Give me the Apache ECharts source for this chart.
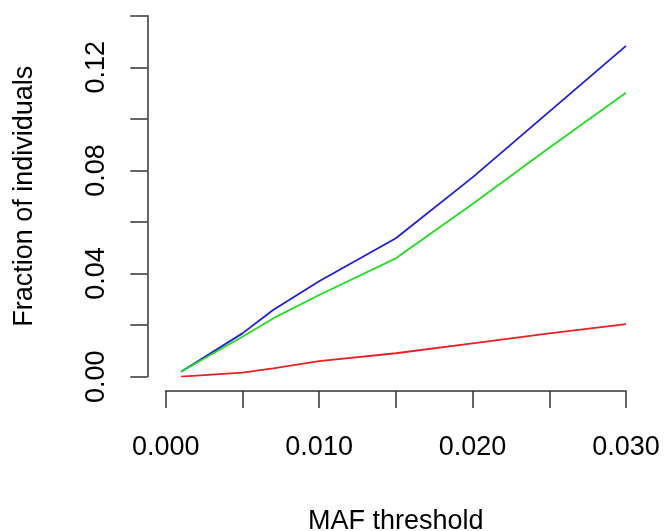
<!DOCTYPE html>
<html lang="en">
<head>
    <meta charset="utf-8">
    <title>Fraction of individuals by MAF threshold</title>
    <style>
        html, body { margin: 0; padding: 0; background: #fff; }
    </style>
</head>
<body>
    <div id="main" style="width:666px;height:531px;"></div>
    <script src="https://cdn.jsdelivr.net/npm/echarts@6/dist/echarts.min.js"></script>
    <script type="text/javascript">

        // MAF thresholds (x)
        var thresholds = [0.001, 0.005, 0.007, 0.010, 0.015, 0.020, 0.025, 0.030];
        // fraction of individuals for each curve
        var blueVals  = [0.0019, 0.0168, 0.0259, 0.0370, 0.0537, 0.0773, 0.1028, 0.1283];
        var greenVals = [0.0019, 0.0155, 0.0226, 0.0317, 0.0459, 0.0670, 0.0888, 0.1101];
        var redVals   = [0.0000, 0.0016, 0.0032, 0.0060, 0.0091, 0.0129, 0.0168, 0.0204];

        var xTicksLabelled = [0, 0.01, 0.02, 0.03];
        var yTicksLabelled = [0, 0.04, 0.08, 0.12];

        var font = 'Liberation Sans, Arial, Helvetica, sans-serif';

        function pairs(xs, ys) {
            var res = [];
            xs.forEach(function (x, i) { res.push([x, ys[i]]); });
            return res;
        }
        function isLabelled(v, list) {
            return list.some(function (t) { return Math.abs(t - v) < 1e-9; });
        }

        var myChart = echarts.init(document.getElementById('main'));

        var axisCommon = {
            type: 'value',
            splitLine: { show: false },
            axisLine: { show: true, onZero: false, lineStyle: { color: '#333', width: 1.5 } },
            axisTick: { show: true, length: 17, inside: false, lineStyle: { color: '#333', width: 1.5 } },
            nameLocation: 'middle',
            nameTextStyle: { color: '#000', fontSize: 27, fontFamily: font }
        };

        var option = {
            animation: false,
            grid: {
                left: 165.7, right: 40, top: 15.7, bottom: 154.3,
                containLabel: false, outerBoundsMode: 'none'
            },
            xAxis: Object.assign({}, axisCommon, {
                min: 0,
                max: 0.03,
                interval: 0.005,
                offset: 14.4,
                name: 'MAF threshold',
                nameGap: 117,
                axisLabel: {
                    margin: 43,
                    color: '#000',
                    fontSize: 27,
                    fontFamily: font,
                    showMinLabel: true,
                    showMaxLabel: true,
                    formatter: function (v) {
                        return isLabelled(v, xTicksLabelled) ? v.toFixed(3) : '';
                    }
                }
            }),
            yAxis: Object.assign({}, axisCommon, {
                min: 0,
                max: 0.14,
                interval: 0.02,
                offset: 18.4,
                name: 'Fraction of individuals',
                nameGap: 109,
                axisLabel: {
                    margin: 37,
                    rotate: 90,
                    color: '#000',
                    fontSize: 27,
                    fontFamily: font,
                    formatter: function (v) {
                        return isLabelled(v, yTicksLabelled) ? v.toFixed(2) : '';
                    }
                }
            }),
            series: [
                {
                    type: 'line', data: pairs(thresholds, blueVals), showSymbol: false,
                    lineStyle: { color: '#1f1fd0', width: 1.8 }, itemStyle: { color: '#1f1fd0' }
                },
                {
                    type: 'line', data: pairs(thresholds, greenVals), showSymbol: false,
                    lineStyle: { color: '#22dd22', width: 1.8 }, itemStyle: { color: '#22dd22' }
                },
                {
                    type: 'line', data: pairs(thresholds, redVals), showSymbol: false,
                    lineStyle: { color: '#e82020', width: 1.8 }, itemStyle: { color: '#e82020' }
                }
            ]
        };
        myChart.setOption(option);
    </script>
</body>
</html>
